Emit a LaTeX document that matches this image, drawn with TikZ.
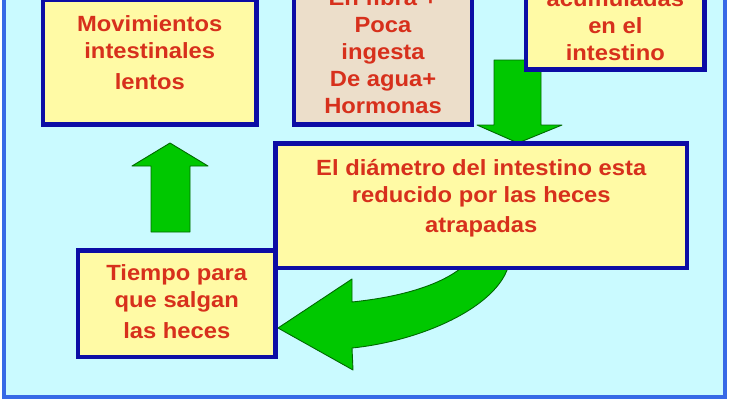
\documentclass[tikz,border=0pt]{standalone}
\usepackage{fontspec}
\setmainfont{Liberation Sans}[FakeStretch=1.08]
\definecolor{bgcyan}{RGB}{202,250,255}
\definecolor{frameblue}{RGB}{55,105,230}
\definecolor{boxblue}{RGB}{12,12,165}
\definecolor{boxyellow}{RGB}{255,250,165}
\definecolor{boxbeige}{RGB}{236,222,202}
\definecolor{txtred}{RGB}{215,48,28}
\definecolor{arrgreen}{RGB}{0,200,0}
\definecolor{arrdark}{RGB}{0,105,0}
\begin{document}
\begin{tikzpicture}[x=1pt,y=-1pt,
  ybox/.style={draw=boxblue, fill=boxyellow, line width=4.5pt, rectangle, inner sep=0pt},
  bbox/.style={ybox, fill=boxbeige},
  txt/.style={text=txtred, font=\bfseries\fontsize{22}{27}\selectfont, align=center, inner sep=0pt, anchor=base},
  blockarrow/.style={fill=arrgreen, draw=arrdark, line width=0.9pt, line join=round}]
\useasboundingbox (0,0) rectangle (730,400);
\fill[white] (0,0) rectangle (730,400);
\filldraw[fill=bgcyan, draw=frameblue, line width=4pt] (3.5,-20) rectangle (725,396.5);

% block arrows
\path[blockarrow] (170,143) -- (208,166) -- (190,166) -- (190,232) -- (151,232) -- (151,166) -- (132,166) -- cycle;
\path[blockarrow] (494,60) -- (541,60) -- (541,125) -- (562,125) -- (518,143) -- (477,125) -- (494,125) -- cycle;
\path[blockarrow] (278,328) -- (352,279) -- (352,302)
   .. controls (400,297) and (445,285) .. (468,262) -- (510,255)
   .. controls (510,300) and (430,340) .. (352,348) -- (353,370) -- cycle;

% boxes
\node[ybox, minimum width=213.5pt, minimum height=125.2pt] (b1) at (149.75,62.1) {};
\node[bbox, minimum width=178pt, minimum height=144.7pt] (b2) at (383,52.35) {};
\node[ybox, minimum width=178.7pt, minimum height=89.7pt] (b3) at (615.35,24.85) {};
\node[ybox, minimum width=411.5pt, minimum height=124.3pt] (b4) at (481.25,205.85) {};
\node[ybox, minimum width=197.5pt, minimum height=106.5pt] (b5) at (176.75,303.75) {};

% texts (anchor = baseline of the last line)
\node[txt] (t1) at (149.75,89) {Movimientos\\intestinales\\[4pt]lentos};
\node[txt] (t2) at (383,113) {En fibra +\\Poca\\ingesta\\De agua+\\Hormonas};
\node[txt] (t3) at (615.35,60) {acumuladas\\en el\\intestino};
\node[txt] (t4) at (481.25,232) {El diámetro del intestino esta\\reducido por las heces\\[3pt]atrapadas};
\node[txt] (t5) at (176.75,338) {Tiempo para\\que salgan\\[4pt]las heces};
\end{tikzpicture}
\end{document}
